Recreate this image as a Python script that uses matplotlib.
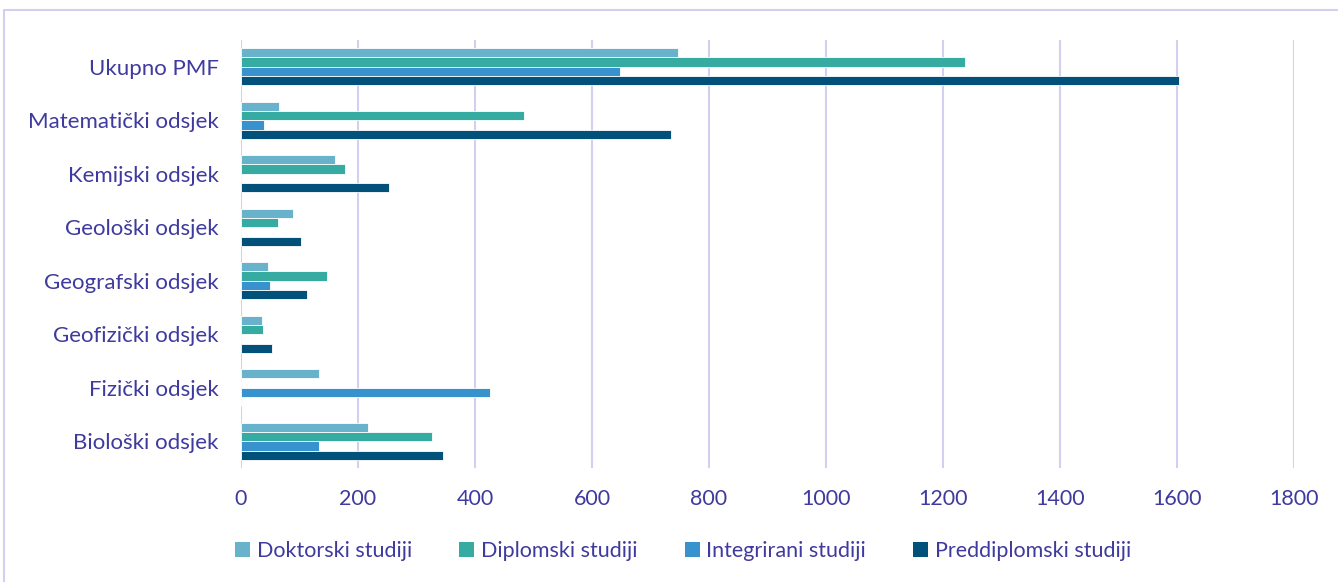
import matplotlib
matplotlib.use("Agg")
import matplotlib.pyplot as plt
from matplotlib.patches import Rectangle, Patch
import numpy as np

categories = ["Biološki odsjek", "Fizički odsjek", "Geofizički odsjek", "Geografski odsjek",
              "Geološki odsjek", "Kemijski odsjek", "Matematički odsjek", "Ukupno PMF"]
doktorski = [217, 133, 36, 46, 89, 161, 65, 747]
diplomski = [326, 0, 38, 147, 63, 178, 484, 1238]
integrirani = [133, 426, 0, 50, 0, 0, 39, 648]
preddiplomski = [345, 0, 53, 113, 103, 253, 735, 1603]
series_names = ["Doktorski studiji", "Diplomski studiji", "Integrirani studiji", "Preddiplomski studiji"]
colors = ["#68B3CB", "#35ABA1", "#3892CE", "#01517A"]
xticks = [0, 200, 400, 600, 800, 1000, 1200, 1400, 1600, 1800]

text_color = "#3F3A9E"
grid_color = "#D3CFF0"
plt.rcParams['font.family'] = ['Lato', 'DejaVu Sans']

fig = plt.figure(figsize=(13.38, 5.82), dpi=100)
ax = fig.add_axes([241/1338, 1-468/582, (1294-241)/1338, 428/582])

y = np.arange(len(categories))
h = 0.175
series = [doktorski, diplomski, integrirani, preddiplomski]
offsets = [1.5*h, 0.5*h, -0.5*h, -1.5*h]
for vals, off, c in zip(series, offsets, colors):
    ax.barh(y + off, vals, height=h, color=c, edgecolor="white", linewidth=0.6, zorder=3)

ax.set_xlim(0, 1800)
ax.set_ylim(-0.5, 7.5)
ax.set_xticks(xticks)
ax.set_xticklabels([str(t) for t in xticks])
ax.set_yticks(y)
ax.set_yticklabels(categories)
ax.tick_params(axis='both', length=0, colors=text_color)
ax.tick_params(axis='y', pad=16, labelsize=16)
ax.tick_params(axis='x', pad=15, labelsize=15.5)
for s in ax.spines.values():
    s.set_visible(False)
ax.grid(axis='x', color=grid_color, linewidth=1.5, zorder=0)
ax.set_axisbelow(True)

handles = [Patch(facecolor=c, label=n) for c, n in zip(colors, series_names)]
leg = fig.legend(handles=handles, loc='center', bbox_to_anchor=(683/1338, 1-551/582), ncol=4,
                 frameon=False, fontsize=15.5, handlelength=0.7, handleheight=0.7,
                 handletextpad=0.3, columnspacing=2.2)
for t in leg.get_texts():
    t.set_color(text_color)

fig.patches.append(Rectangle((4/1338, -0.1), 1.2, 1-10/582+0.1, transform=fig.transFigure,
                             fill=False, edgecolor=grid_color, linewidth=1.5))

fig.savefig("out.png", dpi=100)
